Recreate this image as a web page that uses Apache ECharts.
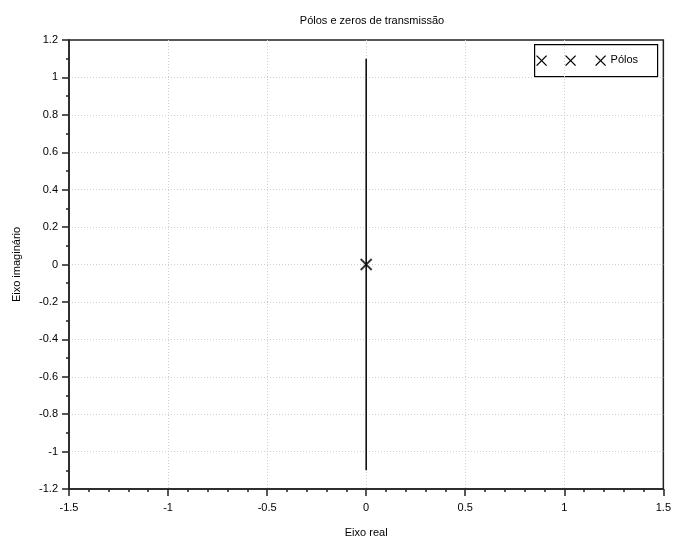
<!DOCTYPE html>
<html>
<head>
<meta charset="utf-8">
<title>Pólos e zeros de transmissão</title>
<script src="https://cdn.jsdelivr.net/npm/echarts@6/dist/echarts.min.js"></script>
<style>
  html, body { margin: 0; padding: 0; background: #fff; }
  #chart { width: 674px; height: 544px; }
</style>
</head>
<body>
<div id="chart"></div>
<script>
// dados
var lineX = [0, 0];
var lineY = [-1.1, 1.1];
var poleRe = [0];
var poleIm = [0];
var xTicks = [-1.5, 1.5, 0.5];
var yTicks = [-1.2, 1.2, 0.2];

var crossPath = 'path://M0,0L10,10M10,0L0,10';
var font = 'Liberation Sans';

// um "X" da legenda feito com duas linhas
function cross(cx, cy) {
  var st = { stroke: '#000', lineWidth: 1.3 };
  return [
    { type: 'line', shape: { x1: cx - 5, y1: cy - 5, x2: cx + 5, y2: cy + 5 }, style: st },
    { type: 'line', shape: { x1: cx + 5, y1: cy - 5, x2: cx - 5, y2: cy + 5 }, style: st }
  ];
}

var chart = echarts.init(document.getElementById('chart'));
var option = {
  animation: false,
  backgroundColor: '#fff',
  title: {
    text: 'Pólos e zeros de transmissão',
    left: 367, top: 10, textAlign: 'center',
    textStyle: { fontFamily: font, fontSize: 11, fontWeight: 'normal', color: '#000' }
  },
  grid: {
    left: 69, right: 10, top: 40, bottom: 55,
    show: true, borderColor: '#222', borderWidth: 1.5
  },
  xAxis: {
    type: 'value',
    min: xTicks[0], max: xTicks[1], interval: xTicks[2],
    name: 'Eixo real', nameLocation: 'middle', nameGap: 38,
    nameTextStyle: { fontFamily: font, fontSize: 11, color: '#000' },
    axisLine: { onZero: false, lineStyle: { color: '#222', width: 1.5 } },
    axisTick: { length: 7, lineStyle: { color: '#222', width: 1.5 } },
    minorTick: { show: true, splitNumber: 5, length: 3, lineStyle: { color: '#222', width: 1.5 } },
    axisLabel: { fontFamily: font, fontSize: 11, color: '#000', margin: 13 },
    splitLine: { showMinLine: false, showMaxLine: false,
      lineStyle: { color: '#cfcfcf', type: [1, 2] } }
  },
  yAxis: {
    type: 'value',
    min: yTicks[0], max: yTicks[1], interval: yTicks[2],
    name: 'Eixo imaginário', nameLocation: 'middle', nameGap: 47,
    nameTextStyle: { fontFamily: font, fontSize: 11, color: '#000' },
    axisLine: { onZero: false, lineStyle: { color: '#222', width: 1.5 } },
    axisTick: { length: 7, lineStyle: { color: '#222', width: 1.5 } },
    minorTick: { show: true, splitNumber: 2, length: 3, lineStyle: { color: '#222', width: 1.5 } },
    axisLabel: { fontFamily: font, fontSize: 11, color: '#000', margin: 11 },
    splitLine: { showMinLine: false, showMaxLine: false,
      lineStyle: { color: '#cfcfcf', type: [1, 2] } }
  },
  series: [
    {
      type: 'line',
      data: lineX.map(function (x, i) { return [x, lineY[i]]; }),
      showSymbol: false,
      lineStyle: { color: '#000', width: 1.5 },
      silent: true,
      z: 4
    },
    {
      name: 'Pólos',
      type: 'scatter',
      data: poleRe.map(function (x, i) { return [x, poleIm[i]]; }),
      symbol: crossPath,
      symbolSize: 11,
      itemStyle: { color: 'none', borderColor: '#000', borderWidth: 1.8 },
      z: 5
    }
  ],
  graphic: [
    {
      type: 'group', left: 534, top: 44,
      children: [
        { type: 'rect', shape: { x: 0, y: 0, width: 123, height: 32 },
          style: { fill: '#fff', stroke: '#000', lineWidth: 1.2 } }
      ].concat(cross(7, 16), cross(36, 16), cross(66, 16), [
        { type: 'text', x: 76, y: 10,
          style: { text: 'Pólos', fontFamily: font, fontSize: 11, fill: '#000' } }
      ])
    }
  ]
};
chart.setOption(option);
</script>
</body>
</html>
